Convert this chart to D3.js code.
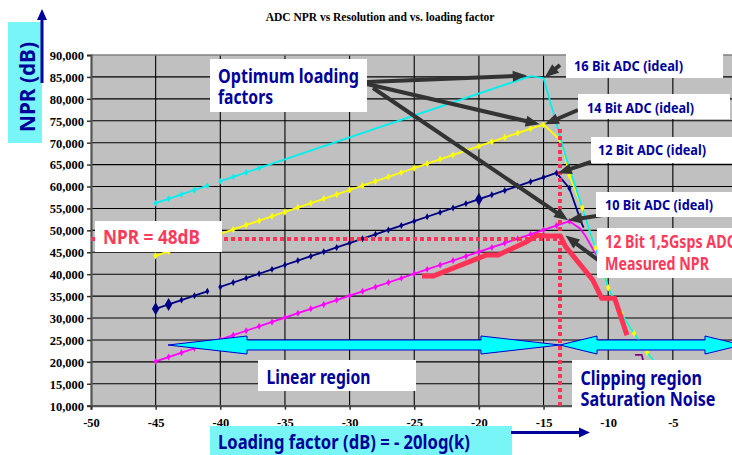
<!DOCTYPE html>
<html><head><meta charset="utf-8">
<script src="https://cdn.jsdelivr.net/npm/d3@7/dist/d3.min.js"></script>
<style>html,body{margin:0;padding:0;background:#fff;overflow:hidden}</style>
</head><body>
<svg id="c" width="732" height="455"></svg>
<script>
// ---------------- DATA ----------------
const chartTitle = "ADC NPR vs Resolution and vs. loading factor";
const xTicks = [-50,-45,-40,-35,-30,-25,-20,-15,-10,-5];
const yTicks = [10,15,20,25,30,35,40,45,50,55,60,65,70,75,80,85,90];
const yTickLabels = ["10,000","15,000","20,000","25,000","30,000","35,000","40,000","45,000","50,000","55,000","60,000","65,000","70,000","75,000","80,000","85,000","90,000"];

// 16 bit ADC (ideal) - cyan
const bit16X = [-45,-44,-43,-42,-41,-40.5,-40,-39,-38,-37,-16,-15,-13.2,-10,-9,-8,-7,-6,-5];
const bit16Y = [56.2,57.2,58.2,59.2,60.2,null,61.2,62.2,63.2,64.2,85.2,84.7,66.0,36.9,31.1,26.5,22.2,18.4,14.5];
// 14 bit ADC (ideal) - yellow
const bit14X = [-45,-44,-43,-42,-41,-40,-39,-38,-37,-36,-35,-34,-33,-32,-31,-30,-29,-28,-27,-26,-25,-24,-23,-22,-21,-20,-19,-18,-17,-16,-15,-14,-13.5,-13,-12,-11,-10,-9,-8,-7,-6];
const bit14Y = [44.2,45.2,46.2,47.2,48.2,49.2,50.2,51.2,52.2,53.2,54.2,55.2,56.2,57.2,58.2,59.2,60.2,61.2,62.2,63.2,64.2,65.2,66.2,67.2,68.2,69.2,70.2,71.2,72.2,73.2,74.1,71.4,69.1,62.5,55.1,46.0,36.9,31.1,26.5,22.2,18.4];
// 12 bit ADC (ideal) - navy
const bit12X = [-45,-44,-43,-42,-41,-40.5,-40,-39,-38,-37,-36,-35,-34,-33,-32,-31,-30,-29,-28,-27,-26,-25,-24,-23,-22,-21,-20,-19,-18,-17,-16,-15,-14,-13,-12.05,-11.9];
const bit12Y = [32.1,33.1,34.1,35.1,36.1,null,37.1,38.1,39.1,40.1,41.1,42.1,43.1,44.1,45.1,46.1,47.1,48.1,49.1,50.1,51.1,52.1,53.1,54.1,55.1,56.1,57.1,58.1,59.1,60.1,61.1,62.1,63.1,59.6,51.6,50.6];
const bit12Big = [-45,-44,-20];
// 10 bit ADC (ideal) - magenta
const bit10X = [-45,-44,-43,-42,-41,-40,-39,-38,-37,-36,-35,-34,-33,-32,-31,-30,-29,-28,-27,-26,-25,-24,-23,-22,-21,-20,-19,-18,-17,-16,-15,-14,-13,-12.2,-11.8,-10.6];
const bit10Y = [20.1,21.1,22.1,23.1,24.1,25.1,26.1,27.1,28.1,29.1,30.1,31.1,32.1,33.1,34.1,35.1,36.1,37.1,38.1,39.1,40.1,41.1,42.1,43.1,44.1,45.1,46.1,47.1,48.1,49.1,50.1,51.1,52.1,50.5,48.9,42.8];
// small purple segment
const hookX = [-7.93,-7.41,-7.27];
const hookY = [21.6,21.6,20.0];
// 12 Bit 1,5Gsps ADC measured NPR - red
const measX = [-24.4,-23.5,-19.4,-18.5,-16.3,-15.5,-14.6,-13.7,-13.3,-11.2,-10.5,-9.5,-8.55];
const measY = [39.6,39.6,44.4,44.4,47.4,48.9,48.7,48.7,46.3,38.7,34.5,34.5,26.1];
// reference lines
const nprRef = 48;
const optLoading = -13.73;

// ---------------- LAYOUT ----------------
const svg = d3.select("#c");
const L = 91, R = 737.5, T = 55, B = 405.7;
const x = d3.scaleLinear().domain([-50,0]).range([L,R]);
const y = d3.scaleLinear().domain([10,90]).range([B,T]);
const NAVY = "#00009a", RED = "#fd3a5a", CYANBOX = "#78f6f7";

svg.append("defs").append("clipPath").attr("id","pc")
  .append("rect").attr("x",L).attr("y",T).attr("width",R-L).attr("height",B-T);

// title
svg.append("text").attr("x",380).attr("y",21).attr("text-anchor","middle")
  .attr("font-family","Liberation Serif, Times New Roman, serif").attr("font-weight","bold")
  .attr("font-size",11.5).attr("fill","#000").text(chartTitle);

// plot background
svg.append("rect").attr("x",L).attr("y",T).attr("width",R-L).attr("height",B-T).attr("fill","#c0c0c0");

// grid
const g = svg.append("g");
g.selectAll(".gx").data(xTicks.filter(d=>d>-50)).join("line")
  .attr("x1",d=>x(d)).attr("x2",d=>x(d)).attr("y1",T).attr("y2",B)
  .attr("stroke","#000").attr("stroke-width",1.1);
g.selectAll(".gy").data(yTicks.filter(d=>d>10 && d<90)).join("line")
  .attr("x1",L).attr("x2",R).attr("y1",d=>y(d)).attr("y2",d=>y(d))
  .attr("stroke","#000").attr("stroke-width",1.1);
g.append("line").attr("x1",L).attr("x2",R).attr("y1",T).attr("y2",T).attr("stroke","#808080").attr("stroke-width",1.5);

// axes
const yAxis = d3.axisLeft(y).tickValues(yTicks).tickSize(4).tickFormat((d,i)=>yTickLabels[i]);
const ya = svg.append("g").attr("transform",`translate(${L},0)`).call(yAxis);
const xAxis = d3.axisBottom(x).tickValues(xTicks).tickSize(4).tickFormat(d=>String(d));
const xa = svg.append("g").attr("transform",`translate(0,${B})`).call(xAxis);
[ya,xa].forEach(a=>{
  a.select(".domain").attr("stroke","#555").attr("stroke-width",2.2);
  a.selectAll(".tick line").attr("stroke","#333").attr("stroke-width",1.5);
  a.selectAll("text").attr("font-family","Liberation Serif, Times New Roman, serif")
    .attr("font-weight","bold").attr("font-size",12.5).attr("fill","#000");
});
ya.selectAll("text").attr("x",-7).attr("dy","0.35em");
xa.selectAll("text").attr("y",12);

// ---------------- SERIES ----------------
const plot = svg.append("g").attr("clip-path","url(#pc)");
const lineGen = d3.line().defined(d=>d[1]!=null).x(d=>x(d[0])).y(d=>y(d[1]));
const zip = (xs,ys)=>xs.map((v,i)=>[v,ys[i]]);
function path(xs,ys,color,w){
  plot.append("path").datum(zip(xs,ys)).attr("d",lineGen).attr("fill","none")
    .attr("stroke",color).attr("stroke-width",w).attr("stroke-linejoin","round");
}
function marks(xs,ys,color,filter,size){
  plot.selectAll(null).data(zip(xs,ys).filter(d=>d[1]!=null && filter(d))).join("path")
    .attr("transform",d=>`translate(${x(d[0])},${y(d[1])})`)
    .attr("d",d3.symbol(d3.symbolDiamond,size)).attr("fill",color);
}
path(bit10X,bit10Y,"#ff00ff",1.8);
marks(bit10X,bit10Y,"#ff00ff",d=>Number.isInteger(d[0]),14);
path(bit12X,bit12Y,"#000080",1.8);
marks(bit12X,bit12Y,"#000080",d=>Number.isInteger(d[0]),14);
marks(bit12X,bit12Y,"#000080",d=>bit12Big.includes(d[0]),48);
path(bit14X,bit14Y,"#ffff00",1.8);
path(bit16X,bit16Y,"#00f0f0",1.8);
marks(bit16X,bit16Y,"#00f0f0",d=>d[0]<=-37,14);
marks(bit14X,bit14Y,"#ffff00",d=>Number.isInteger(d[0]) && (d[0]<=-15 || d[0]>=-13),16);
path(hookX,hookY,"#800080",1.8);
path(measX,measY,"#ff3355",5);

// reference dotted lines
plot.append("line").attr("x1",x(-50)).attr("x2",x(optLoading)).attr("y1",y(nprRef)).attr("y2",y(nprRef))
  .attr("stroke","#ff3355").attr("stroke-width",4).attr("stroke-dasharray","4,3");
plot.append("line").attr("x1",x(optLoading)).attr("x2",x(optLoading)).attr("y1",y(73.1)).attr("y2",B)
  .attr("stroke","#ff3355").attr("stroke-width",4).attr("stroke-dasharray","4,3");

// ---------------- ANNOTATIONS ----------------
function dblArrow(x1,x2,cy,head,hh,sh){
  const p=[[x1,cy],[x1+head,cy-hh],[x1+head,cy-sh],[x2-head,cy-sh],[x2-head,cy-hh],[x2,cy],
           [x2-head,cy+hh],[x2-head,cy+sh],[x1+head,cy+sh],[x1+head,cy+hh]];
  svg.append("polygon").attr("points",p.map(q=>q.join(",")).join(" "))
    .attr("fill","#00ffff").attr("stroke","#0000cc").attr("stroke-width",1);
}
dblArrow(168,x(optLoading),345,79,9,5);
dblArrow(x(optLoading),742,345,37,9,5);

function arrow(x1,y1,x2,y2,color,w,hl,hw){
  const a=Math.atan2(y2-y1,x2-x1), c=Math.cos(a), s=Math.sin(a);
  const bx=x2-hl*c, by=y2-hl*s;
  svg.append("line").attr("x1",x1).attr("y1",y1).attr("x2",bx+2*c).attr("y2",by+2*s)
    .attr("stroke",color).attr("stroke-width",w);
  svg.append("polygon").attr("points",
    [[x2,y2],[bx-hw/2*s,by+hw/2*c],[bx+hw/2*s,by-hw/2*c]].map(q=>q.join(",")).join(" "))
    .attr("fill",color);
}
const DK="#333333";
arrow(367,82,x(-16.3),y(85.3),DK,4,14,11);
arrow(367,84,x(-15.3),y(74.2),DK,4,14,11);
arrow(373,88,x(-13.1),y(52.3),DK,4,14,11);
arrow(560,65,x(-14.9),y(84.9),DK,4,14,11);
arrow(578,110,x(-14.9),y(74.2),DK,4,14,11);
arrow(591,162,x(-13.9),y(63.0),DK,4,14,11);
arrow(603,215,x(-13.1),y(52.3),DK,4,14,11);
arrow(598,260,x(-13.3),y(48.8),DK,4,14,11);

function box(bx,by,bw,bh,fill){svg.append("rect").attr("x",bx).attr("y",by).attr("width",bw).attr("height",bh).attr("fill",fill);}
function label(tx,ty,str,size,color,len){
  const t=svg.append("text").attr("x",tx).attr("y",ty).attr("font-family","Noto Sans, Open Sans, sans-serif")
    .attr("font-weight","bold").attr("font-size",size).attr("fill",color).text(str);
  if(len){t.attr("textLength",len).attr("lengthAdjust","spacingAndGlyphs");}
  return t;
}
box(210,59,157,53,"#fff");
label(218,82.5,"Optimum loading",20,NAVY,141);
label(218,104,"factors",20,NAVY,55);

box(566,46,157,32,"#fff");
label(574,70.5,"16 Bit ADC (ideal)",14.5,NAVY,109);
box(578,94,152,25,"#fff");
label(587,112.5,"14 Bit ADC (ideal)",14.5,NAVY,107);
box(591,137,141,26,"#fff");
label(598,155,"12 Bit ADC (ideal)",14.5,NAVY,108);
box(596,192,136,25,"#fff");
label(605,210,"10 Bit ADC (ideal)",14.5,NAVY,108);

box(597,228,140,50,"#fff");
const mlen=104;
label(605,270,"Measured NPR",17,RED,mlen);
const t1=label(605,248,"12 Bit 1,5Gsps ADC",17,RED);
{
  const tmp=svg.append("text").attr("font-family","Noto Sans, Open Sans, sans-serif").attr("font-weight","bold").attr("font-size",17).text("Measured NPR");
  const r=mlen/tmp.node().getComputedTextLength(); tmp.remove();
  t1.attr("textLength",t1.node().getComputedTextLength()*r).attr("lengthAdjust","spacingAndGlyphs");
}

box(95,221,127,31,"#fff");
label(103,243.5,"NPR = 48dB",20,RED,97);

box(258,360,158,31,"#fff");
label(266.5,383.5,"Linear region",20,NAVY,104);

box(572,360,165,52,"#fff");
label(580.5,384.5,"Clipping region",20,NAVY,121.5);
label(580.5,405.5,"Saturation Noise",20,NAVY,135);

box(210,426,302,29,CYANBOX);
label(218,448.5,"Loading factor (dB) = - 20log(k)",20,NAVY,252);
arrow(511,432.5,590,432.5,NAVY,3,11,10);

box(8,22,34,121,CYANBOX);
label(0,0,"NPR (dB)",20.5,NAVY,90).attr("transform","translate(35,132) rotate(-90)");
arrow(42,83,42,9,NAVY,3,11,10);
</script>
</body></html>
